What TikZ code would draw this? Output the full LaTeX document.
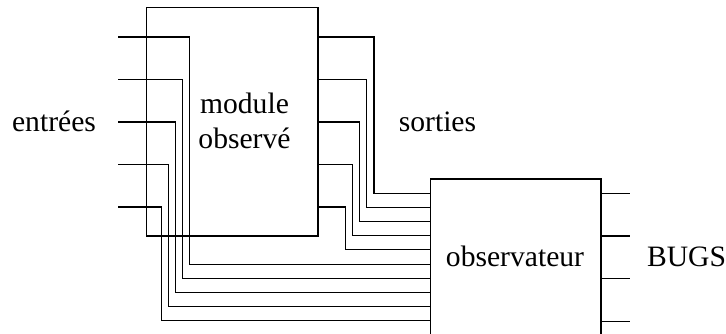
\documentclass[tikz,border=0pt]{standalone}
\usepackage{fontspec}
\setmainfont{Liberation Serif}
\usetikzlibrary{positioning}
\tikzset{
	x=1pt, y=-1pt, % one unit is one pixel of the drawing, y going down
	wire/.style={line width=1.1pt}, % the signal lines
	block/.style={draw, rectangle, line width=1.1pt, inner sep=0pt}, % the two modules
	lbl/.style={font=\fontsize{29.6}{35}\selectfont, inner sep=0pt, anchor=base}, % the texts
}

\begin{document}
\begin{tikzpicture}
	\useasboundingbox (0,0) rectangle (726,334);
	\clip (0,0) rectangle (726,334);
	\node[block, minimum width=171.3pt, minimum height=228.7pt] (mod) at (232.35,121.65) {};
	\node[block, minimum width=170.5pt, minimum height=200pt] (obs) at (515.75,279) {};
	\node[lbl, anchor=center, align=center] (modlbl) at (244.5,120.4) {module\\observé};
	\node[lbl] (inlbl) at (54,131.7) {entrées};
	\node[lbl] (outlbl) at (437.5,131.7) {sorties};
	\node[lbl] (obslbl) at (515,266) {observateur};
	\node[lbl] (buglbl) at (686.5,266) {BUGS};
	\foreach \i in {0,...,4} {
		% inputs, going through the module box
		\coordinate (in\i) at (118, 37+42.5*\i);
		\draw[wire] (in\i) -| (189.5-7*\i, 264.05+14.15*\i) -- (obs.west |- 0,264.05+14.15*\i);
		% outputs of the module
		\draw[wire] (mod.east |- in\i) -| (374-7.2*\i, 193.3+14.15*\i) -- (obs.west |- 0,193.3+14.15*\i);
	}
	\foreach \j in {0,...,3}
		\draw[wire] (obs.east |- 0,193.3+42.67*\j) -- ++(28,0);
\end{tikzpicture}
\end{document}
